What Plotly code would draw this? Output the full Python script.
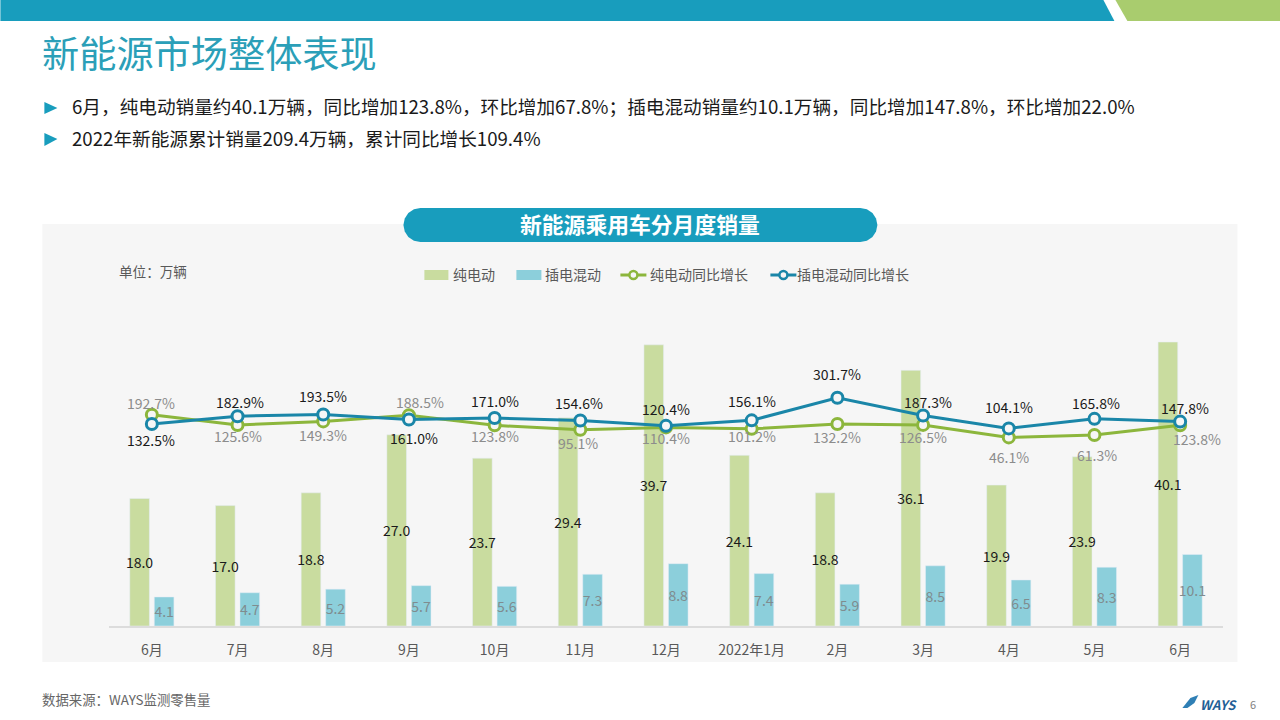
import plotly.graph_objects as go

# chart data
months = ['6月', '7月', '8月', '9月', '10月', '11月', '12月', '2022年1月', '2月', '3月', '4月', '5月', '6月']
bev_sales = [18.0, 17.0, 18.8, 27.0, 23.7, 29.4, 39.7, 24.1, 18.8, 36.1, 19.9, 23.9, 40.1]
phev_sales = [4.1, 4.7, 5.2, 5.7, 5.6, 7.3, 8.8, 7.4, 5.9, 8.5, 6.5, 8.3, 10.1]
bev_yoy = [192.7, 125.6, 149.3, 188.5, 123.8, 95.1, 110.4, 101.2, 132.2, 126.5, 46.1, 61.3, 123.8]
phev_yoy = [132.5, 182.9, 193.5, 161.0, 171.0, 154.6, 120.4, 156.1, 301.7, 187.3, 104.1, 165.8, 147.8]

# label nudges in pixels (dx, dy), dy is positive downwards
bev_label_shift = [(-1, -12), (0, 11), (0, 14), (11, -13), (0, 11), (-2, 13), (0, 11),
                   (0, 7), (0, 13), (0, 12), (0, 20), (3, 20), (17, 14)]
phev_label_shift = [(-1, 16), (2, -14), (0, -19), (5, 18), (0, -17), (-1, -18), (0, -17),
                    (0, -19), (0, -24), (5, -14), (0, -21), (2, -16), (5, -14)]

FONT = 'Noto Sans CJK SC'
TEAL = '#189dbd'
LIME = '#a9cc6e'
BAR_GREEN = '#c9dc9f'
BAR_BLUE = '#8ccfdb'
LINE_GREEN = '#8cb63c'
LINE_BLUE = '#1a86a8'

# plot area in page pixels
W, H = 1280, 720
LEFT, RIGHT, TOP, BOTTOM = 108.6, 1222.6, 330, 626


def px(x):
    return (x - LEFT) / (RIGHT - LEFT)


def py(y):
    return (BOTTOM - y) / (BOTTOM - TOP)


def page_text(x, y, text, size, color, anchor='left'):
    return dict(x=px(x), y=py(y), xref='paper', yref='paper', text=text, showarrow=False,
                xanchor=anchor, yanchor='middle', font=dict(family=FONT, size=size, color=color))


def page_path(points, color):
    path = 'M' + ' L'.join(f'{px(a)},{py(b)}' for a, b in points) + ' Z'
    return dict(type='path', path=path, xref='paper', yref='paper', fillcolor=color,
                line_width=0, layer='below')


def page_rect(x0, y0, x1, y1, color):
    return dict(type='rect', x0=px(x0), x1=px(x1), y0=py(y0), y1=py(y1), xref='paper', yref='paper',
                fillcolor=color, line_width=0, layer='below')


x_pos = list(range(len(months)))

fig = go.Figure()
fig.add_trace(go.Bar(x=x_pos, y=bev_sales, name='纯电动', marker_color=BAR_GREEN,
                     texttemplate='%{y:.1f}', textposition='inside', insidetextanchor='middle',
                     textangle=0, constraintext='none',
                     insidetextfont=dict(family=FONT, size=14, color='#1a1a1a')))
fig.add_trace(go.Bar(x=x_pos, y=phev_sales, name='插电混动', marker_color=BAR_BLUE,
                     texttemplate='%{y:.1f}', textposition='inside', insidetextanchor='middle',
                     textangle=0, constraintext='none',
                     insidetextfont=dict(family=FONT, size=14, color='#7f8c8f')))
fig.add_trace(go.Scatter(x=x_pos, y=bev_yoy, name='纯电动同比增长', yaxis='y2', mode='lines+markers',
                         line=dict(color=LINE_GREEN, width=3),
                         marker=dict(size=11, color='#f6f6f6', line=dict(color=LINE_GREEN, width=3))))
fig.add_trace(go.Scatter(x=x_pos, y=phev_yoy, name='插电混动同比增长', yaxis='y2', mode='lines+markers',
                         line=dict(color=LINE_BLUE, width=3),
                         marker=dict(size=11, color='#f6f6f6', line=dict(color=LINE_BLUE, width=3))))

annotations = []
# growth labels sit on the line values, nudged like on the slide
for vals, shifts, col in [(bev_yoy, bev_label_shift, '#8c8c8c'), (phev_yoy, phev_label_shift, '#1a1a1a')]:
    for i, v in enumerate(vals):
        annotations.append(dict(x=i, y=v, xref='x', yref='y2', text=f'{v:.1f}%', showarrow=False,
                                xshift=shifts[i][0], yshift=-shifts[i][1],
                                font=dict(family=FONT, size=14, color=col)))

annotations += [
    page_text(40, 52, '新能源市场整体表现', 37.2, '#2b9fb8'),
    page_text(70, 105, '6月，纯电动销量约40.1万辆，同比增加123.8%，环比增加67.8%；插电混动销量约10.1万辆，同比增加147.8%，环比增加22.0%', 18.65, '#1a1a1a'),
    page_text(70, 137, '2022年新能源累计销量209.4万辆，累计同比增长109.4%', 18.65, '#1a1a1a'),
    page_text(640, 223, '<b>新能源乘用车分月度销量</b>', 21.8, '#ffffff', 'center'),
    page_text(117, 271, '单位：万辆', 13.6, '#595959'),
    page_text(451, 274, '纯电动', 14, '#595959'),
    page_text(543, 274, '插电混动', 14, '#595959'),
    page_text(648, 274, '纯电动同比增长', 14, '#595959'),
    page_text(795, 274, '插电混动同比增长', 14, '#595959'),
    page_text(40, 699, '数据来源：WAYS监测零售量', 13.4, '#666666'),
    page_text(1198, 704, '<b><i>WAYS</i></b>', 13, '#1f5f96'),
    page_text(1253, 704, '6', 11, '#7f7f7f', 'center'),
]

# rounded ends of the title pill
r = 17
unit_arc = [(0, -1), (0.38, -0.92), (0.71, -0.71), (0.92, -0.38), (1, 0), (0.92, 0.38), (0.71, 0.71), (0.38, 0.92), (0, 1)]
arc_r = [(877 - r + r * c, 225 + r * s) for c, s in unit_arc]
arc_l = [(403 + r - r * c, 225 - r * s) for c, s in unit_arc]

shapes = [
    page_path([(0, 0), (1103, 0), (1114, 21), (0, 21)], TEAL),
    page_path([(1115, 0), (1280, 0), (1280, 21), (1127, 21)], LIME),
    page_path([(44, 102), (57, 108), (44, 114)], TEAL),
    page_path([(44, 133), (57, 139), (44, 146)], TEAL),
    page_rect(42, 224, 1237, 662, '#f6f6f6'),
    page_path(arc_r + arc_l, TEAL),
    page_rect(424, 270, 448, 280, BAR_GREEN),
    page_rect(516, 270, 541, 280, BAR_BLUE),
    # logo swoosh
    page_path([(1182, 708), (1190, 698), (1198, 695), (1194, 703), (1187, 708)], '#2f7fb5'),
]
# legend line samples
for x0, x1, col in [(620, 646, LINE_GREEN), (770, 796, LINE_BLUE)]:
    xm = (x0 + x1) / 2
    shapes.append(dict(type='line', x0=px(x0), x1=px(x1), y0=py(275), y1=py(275), xref='paper', yref='paper',
                       line=dict(color=col, width=3)))
    shapes.append(dict(type='circle', x0=px(xm - 4), x1=px(xm + 4), y0=py(279), y1=py(271), xref='paper',
                       yref='paper', fillcolor='#f6f6f6', line=dict(color=col, width=2.5)))

fig.update_layout(
    width=W, height=H, autosize=False,
    margin=dict(l=LEFT, r=W - RIGHT, t=TOP, b=H - BOTTOM, pad=0),
    paper_bgcolor='#ffffff', plot_bgcolor='rgba(0,0,0,0)',
    barmode='group', bargap=0.428, bargroupgap=0.2,
    showlegend=False,
    font=dict(family=FONT),
    xaxis=dict(tickmode='array', tickvals=x_pos, ticktext=months, range=[-0.5, 12.5],
               showgrid=False, zeroline=False, showline=True, linecolor='#dcdcdc', linewidth=1.5,
               ticks='outside', ticklen=10, tickcolor='rgba(0,0,0,0)',
               tickfont=dict(family=FONT, size=14, color='#595959')),
    yaxis=dict(range=[0, 41.8], visible=False),
    yaxis2=dict(range=[-1171, 739], overlaying='y', visible=False),
    annotations=annotations,
    shapes=shapes,
)

# drop the browser's default page margin so the slide fills the window
fig.write_html("out.html", config={'displayModeBar': False},
               post_script="document.body.style.margin='0';document.body.style.overflow='hidden';")
